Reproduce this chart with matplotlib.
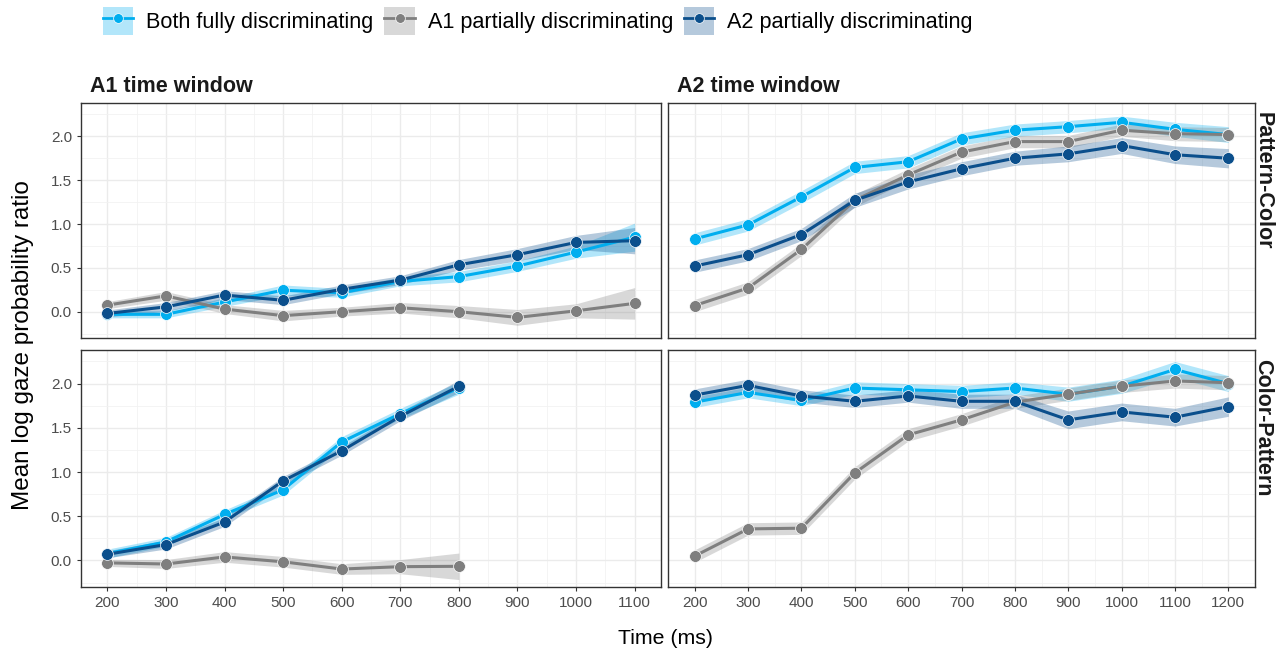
import matplotlib.pyplot as plt
from matplotlib.patches import Patch
from matplotlib.lines import Line2D
from matplotlib.ticker import MultipleLocator
import numpy as np

plt.rcParams['font.family'] = ['Liberation Sans', 'DejaVu Sans']

# time bins (ms)
times_a1_pc = [200, 300, 400, 500, 600, 700, 800, 900, 1000, 1100]
times_a1_cp = [200, 300, 400, 500, 600, 700, 800]
times_a2 = [200, 300, 400, 500, 600, 700, 800, 900, 1000, 1100, 1200]

series_names = ['Both fully discriminating', 'A1 partially discriminating', 'A2 partially discriminating']
series_colors = ['#00AEEF', '#7F7F7F', '#0B4F8C']

# A1 time window, Pattern-Color
both_tl = [-0.03, -0.03, 0.11, 0.245, 0.215, 0.345, 0.40, 0.52, 0.68, 0.85]
a1_tl = [0.075, 0.18, 0.03, -0.045, 0.0, 0.045, 0.0, -0.065, 0.01, 0.095]
a2_tl = [-0.02, 0.055, 0.19, 0.13, 0.255, 0.36, 0.535, 0.65, 0.79, 0.81]
both_tl_ci = [0.04, 0.04, 0.05, 0.06, 0.05, 0.05, 0.06, 0.06, 0.07, 0.16]
a1_tl_ci = [0.04, 0.05, 0.05, 0.06, 0.05, 0.06, 0.07, 0.09, 0.08, 0.18]
a2_tl_ci = [0.04, 0.05, 0.05, 0.05, 0.05, 0.05, 0.06, 0.07, 0.08, 0.15]

# A2 time window, Pattern-Color
both_tr = [0.83, 0.99, 1.31, 1.645, 1.71, 1.97, 2.07, 2.11, 2.16, 2.08, 2.02]
a1_tr = [0.07, 0.27, 0.71, 1.27, 1.56, 1.82, 1.94, 1.94, 2.07, 2.03, 2.02]
a2_tr = [0.52, 0.65, 0.88, 1.27, 1.48, 1.63, 1.75, 1.80, 1.895, 1.79, 1.75]
both_tr_ci = [0.07, 0.07, 0.07, 0.07, 0.07, 0.07, 0.07, 0.07, 0.07, 0.08, 0.09]
a1_tr_ci = [0.07, 0.07, 0.07, 0.07, 0.07, 0.07, 0.07, 0.07, 0.07, 0.08, 0.08]
a2_tr_ci = [0.07, 0.07, 0.07, 0.08, 0.08, 0.08, 0.08, 0.09, 0.09, 0.10, 0.11]

# A1 time window, Color-Pattern
both_bl = [0.078, 0.21, 0.52, 0.80, 1.34, 1.66, 1.95]
a1_bl = [-0.027, -0.04, 0.04, -0.015, -0.097, -0.07, -0.066]
a2_bl = [0.07, 0.18, 0.435, 0.90, 1.24, 1.63, 1.97]
both_bl_ci = [0.05, 0.05, 0.05, 0.06, 0.06, 0.06, 0.07]
a1_bl_ci = [0.04, 0.05, 0.06, 0.06, 0.06, 0.08, 0.15]
a2_bl_ci = [0.04, 0.05, 0.05, 0.05, 0.05, 0.05, 0.07]

# A2 time window, Color-Pattern
both_br = [1.79, 1.90, 1.81, 1.95, 1.93, 1.91, 1.95, 1.88, 1.97, 2.16, 2.0]
a1_br = [0.05, 0.357, 0.365, 0.99, 1.42, 1.59, 1.79, 1.88, 1.97, 2.03, 2.01]
a2_br = [1.87, 1.98, 1.86, 1.80, 1.86, 1.80, 1.80, 1.59, 1.68, 1.62, 1.74]
both_br_ci = [0.06, 0.06, 0.06, 0.07, 0.07, 0.07, 0.07, 0.08, 0.08, 0.09, 0.09]
a1_br_ci = [0.07, 0.07, 0.07, 0.07, 0.07, 0.07, 0.07, 0.07, 0.07, 0.08, 0.08]
a2_br_ci = [0.07, 0.07, 0.07, 0.07, 0.07, 0.08, 0.08, 0.10, 0.10, 0.10, 0.11]

panels = [
    (times_a1_pc, [both_tl, a1_tl, a2_tl], [both_tl_ci, a1_tl_ci, a2_tl_ci]),
    (times_a2, [both_tr, a1_tr, a2_tr], [both_tr_ci, a1_tr_ci, a2_tr_ci]),
    (times_a1_cp, [both_bl, a1_bl, a2_bl], [both_bl_ci, a1_bl_ci, a2_bl_ci]),
    (times_a2, [both_br, a1_br, a2_br], [both_br_ci, a1_br_ci, a2_br_ci]),
]

W, H = 1279, 648
fig = plt.figure(figsize=(W / 100, H / 100), dpi=100)

def box(x0, y0, x1, y1):
    return [x0 / W, 1 - y1 / H, (x1 - x0) / W, (y1 - y0) / H]

rects = [box(81, 103, 661, 338), box(668, 103, 1255, 338),
         box(81, 350, 661, 587), box(668, 350, 1255, 587)]
xlims = [(155, 1145), (150, 1250), (155, 1145), (150, 1250)]
xticks = [np.arange(200, 1101, 100), np.arange(200, 1201, 100)]

axes = []
for i, (t, ys, cis) in enumerate(panels):
    ax = fig.add_axes(rects[i])
    axes.append(ax)
    t = np.array(t)
    for y, ci, c in zip(ys, cis, series_colors):
        y = np.array(y)
        ci = np.array(ci)
        ax.fill_between(t, y - ci, y + ci, color=c, alpha=0.3, lw=0, zorder=2)
    for y, c in zip(ys, series_colors):
        ax.plot(t, y, color=c, lw=2.2, zorder=3, marker='o', ms=8.5,
                markeredgecolor='white', markeredgewidth=0.5)
    ax.set_xlim(*xlims[i])
    ax.set_ylim(-0.3, 2.38)
    ax.set_xticks(xticks[i % 2])
    ax.xaxis.set_minor_locator(MultipleLocator(50))
    ax.yaxis.set_major_locator(MultipleLocator(0.5))
    ax.yaxis.set_minor_locator(MultipleLocator(0.25))
    ax.grid(True, which='major', color='#EBEBEB', lw=1.0, zorder=0)
    ax.grid(True, which='minor', color='#F2F2F2', lw=0.6, zorder=0)
    ax.set_axisbelow(True)
    for s in ax.spines.values():
        s.set_color('#333333')
        s.set_linewidth(1.0)
    ax.tick_params(which='minor', length=0)
    ax.tick_params(which='major', length=3, color='#333333', labelsize=11,
                   labelcolor='#4D4D4D', width=0.8)
    if i < 2:
        ax.tick_params(labelbottom=False, length=0, axis='x')
    if i % 2 == 1:
        ax.tick_params(labelleft=False, length=0, axis='y')
    else:
        ax.yaxis.set_major_formatter(plt.FuncFormatter(lambda v, p: f'{v:.1f}'))

# facet strips
fig.text(90 / W, 1 - 86 / H, 'A1 time window', fontsize=15.5, fontweight='bold',
         va='center', ha='left', color='#1A1A1A')
fig.text(677 / W, 1 - 86 / H, 'A2 time window', fontsize=15.5, fontweight='bold',
         va='center', ha='left', color='#1A1A1A')
fig.text(1263 / W, 1 - 112 / H, 'Pattern-Color', rotation=-90, fontsize=15.5,
         fontweight='bold', va='top', ha='center', color='#1A1A1A')
fig.text(1263 / W, 1 - 359 / H, 'Color-Pattern', rotation=-90, fontsize=15.5,
         fontweight='bold', va='top', ha='center', color='#1A1A1A')

fig.text(23 / W, 1 - 345 / H, 'Mean log gaze probability ratio', rotation=90,
         fontsize=17.5, va='center', ha='center')
fig.text(665 / W, 1 - 638 / H, 'Time (ms)', fontsize=15.3, va='center', ha='center')

handles = []
for c in series_colors:
    handles.append((Patch(facecolor=c, alpha=0.3, edgecolor='none'),
                    Line2D([], [], color=c, lw=2, marker='o', ms=7,
                           markeredgecolor='white', markeredgewidth=0.5)))
fig.legend(handles, series_names, loc='center left', bbox_to_anchor=(103 / W, 1 - 21 / H),
           ncol=3, frameon=False, fontsize=15.6, handlelength=1.4, handleheight=1.6,
           handletextpad=0.6, columnspacing=0.5, borderaxespad=0, borderpad=0)

fig.savefig('out.png', dpi=100)
